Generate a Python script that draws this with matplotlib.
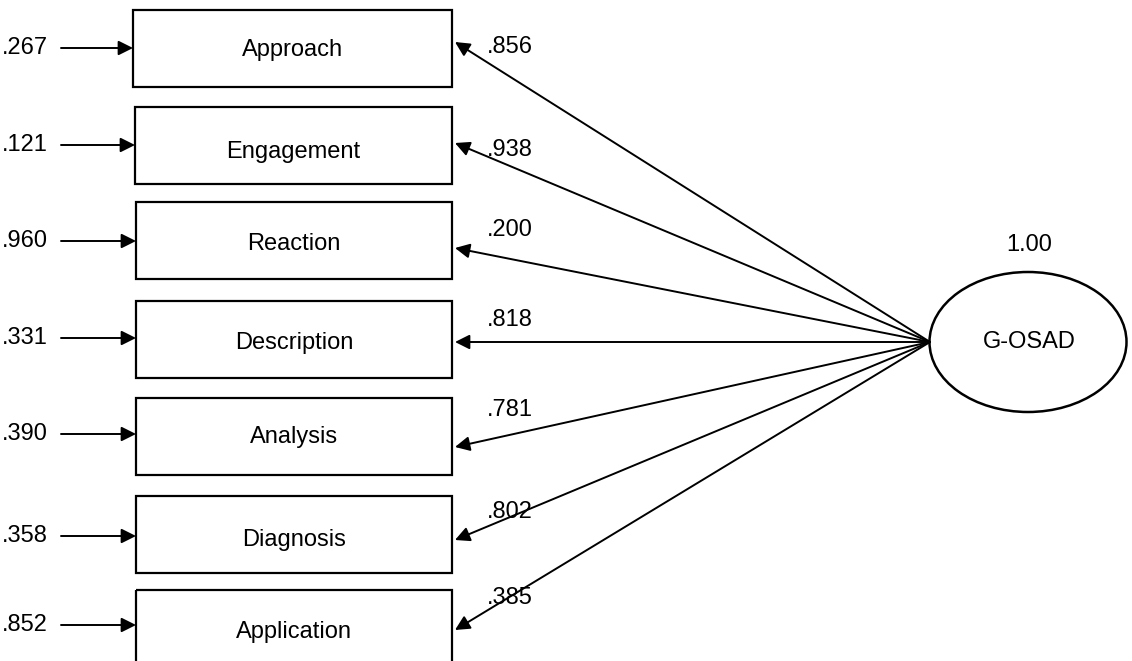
import matplotlib.pyplot as plt
from matplotlib.patches import Rectangle, Ellipse

plt.rcParams['font.family'] = ['Liberation Sans', 'DejaVu Sans']

# Valori del modello (CFA a un fattore)
indicators = ['Approach', 'Engagement', 'Reaction', 'Description',
              'Analysis', 'Diagnosis', 'Application']
residuals = ['.267', '.121', '.960', '.331', '.390', '.358', '.852']
loadings = ['.856', '.938', '.200', '.818', '.781', '.802', '.385']
factor = 'G-OSAD'
factor_var = '1.00'

# Layout in pixel (y verso il basso)
box_top = [10, 107, 202, 301, 398, 496, 590]
box_left = [133, 135, 136, 136, 136, 136, 136]
box_right = 452
box_h = 77
text_dy = [40, 45, 42, 42, 39, 44, 42]
resid_y = [48, 145, 241, 338, 434, 536, 625]
load_end_y = [42, 143, 248, 342, 447, 540, 630]
load_lab_y = [47, 150, 230, 320, 410, 512, 598]

W, H = 1132, 661
fig = plt.figure(figsize=(W / 100, H / 100), dpi=100)
ax = fig.add_axes([0, 0, 1, 1])
ax.set_xlim(0, W)
ax.set_ylim(H, 0)
ax.axis('off')

fs = 17
ex, ey = 1028, 342
ell = Ellipse((ex, ey), 197, 140, fill=False, lw=1.8, ec='black')
ax.add_patch(ell)
ax.text(ex + 1, ey, factor, ha='center', va='center', fontsize=fs)
ax.text(ex + 1, 245, factor_var, ha='center', va='center', fontsize=fs)

arrow = dict(arrowstyle='-|>', color='black', lw=1.4, mutation_scale=22,
             shrinkA=0, shrinkB=0)

for i, name in enumerate(indicators):
    top = box_top[i]
    ax.add_patch(Rectangle((box_left[i], top), box_right - box_left[i], box_h,
                           fill=False, lw=1.6, ec='black', clip_on=True))
    ax.text((box_left[i] + box_right) / 2, top + text_dy[i], name,
            ha='center', va='center', fontsize=fs)

    # errore -> indicatore
    ax.text(2, resid_y[i], residuals[i], ha='left', va='center', fontsize=fs)
    ax.annotate('', xy=(box_left[i], resid_y[i]), xytext=(61, resid_y[i]),
                arrowprops=arrow)

    # fattore -> indicatore
    ax.annotate('', xy=(box_right + 3, load_end_y[i]), xytext=(ex - 98, ey),
                arrowprops=arrow)
    ax.text(510, load_lab_y[i], loadings[i], ha='center', va='center',
            fontsize=fs)

fig.savefig('out.png', dpi=100)
